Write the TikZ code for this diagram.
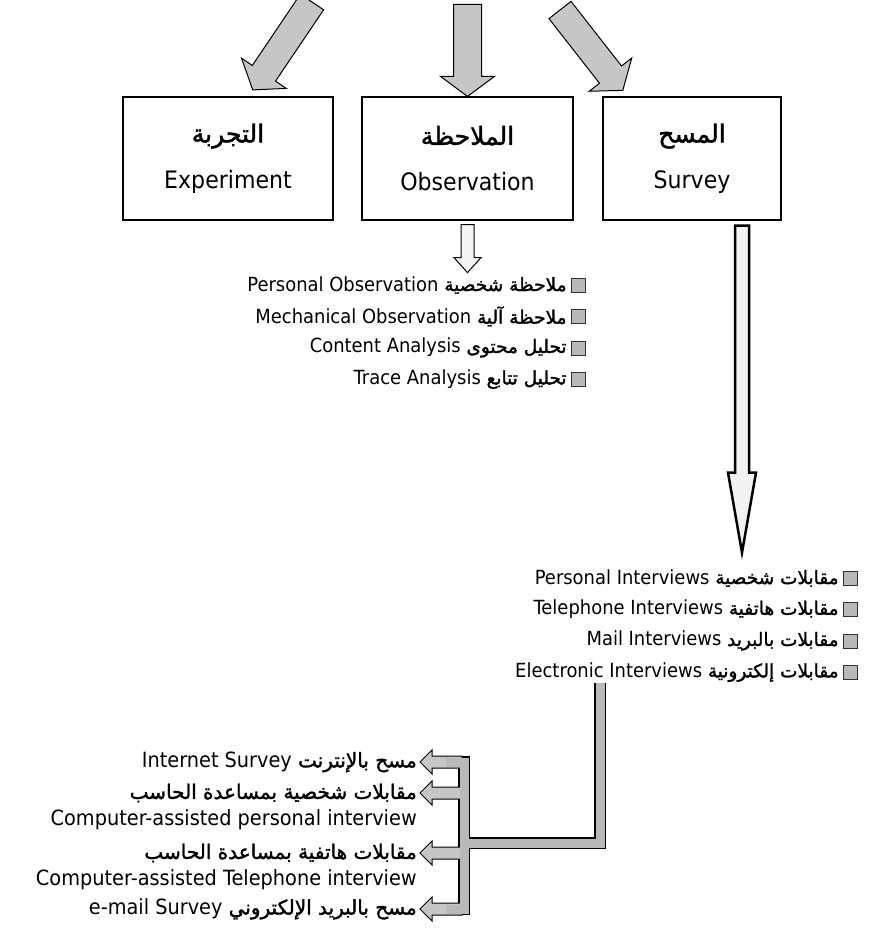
\documentclass[tikz,border=0pt]{standalone}
\usepackage{fontspec}
\setmainfont{DejaVu Sans}[FakeStretch=0.92]
\newfontfamily\arabicfont[Script=Arabic, FakeBold=1.6]{DejaVu Sans}
\TeXXeTstate=1
\usetikzlibrary{positioning,calc}

% Arabic words, set right to left at their own size \arpt
\newcommand{\arpt}{20}
\newcommand{\artext}[1]{{\fontsize{\arpt}{\arpt}\arabicfont\beginR #1\endR}}

\tikzset{
  % #1 length, #2 half shaft, #3 half head, #4 head length
  pics/blockarrow/.style n args={4}{code={
    \draw[pic actions] (0,-#2) -- ({#1-#4},-#2) -- ({#1-#4},-#3) -- (#1,0)
      -- ({#1-#4},#3) -- ({#1-#4},#2) -- (0,#2) -- cycle;
  }},
}

\begin{document}
\begin{tikzpicture}[x=1pt, y=1pt,
    method/.style={rectangle, draw=black, line width=1.2pt, minimum height=123pt,
      align=center, font=\def\arpt{25}\fontsize{24}{46}\selectfont},
    item/.style={inner sep=0pt, font=\def\arpt{18.5}\fontsize{19.5}{22}\selectfont},
    branch/.style={inner sep=0pt, font=\def\arpt{20}\fontsize{21}{24}\selectfont},
    sqbullet/.style={rectangle, draw=gray!40!black, fill=gray!55, minimum size=14pt, inner sep=0pt},
    greyarrow/.style={draw=black, line width=1pt, fill=gray!45},
    openarrow/.style={draw=black, line width=1pt, fill=gray!8},
    thickarrow/.style={draw=black, line width=2.5pt, fill=gray!10},
    barline/.style={draw=black, line width=12pt},
    barfill/.style={draw=gray!55, line width=9pt}]

  \useasboundingbox[fill=white] (0,0) rectangle (886,-948);

  % the three methods
  \node[method, minimum width=210pt] (experiment) at (228,-158.5) {\artext{التجربة}\\Experiment};
  \node[method, minimum width=211pt] (observation) at (467.5,-158.5) {\artext{الملاحظة}\\Observation};
  \node[method, minimum width=178pt] (survey) at (692,-158.5) {\artext{المسح}\\Survey};

  % arrows coming in from above
  \pic[greyarrow, rotate=-124] at (312,-2) {blockarrow={106}{14}{27}{20}};
  \pic[greyarrow, rotate=-90] at ($(observation.north)+(0,92)$) {blockarrow={92}{14}{27}{20}};
  \pic[greyarrow, rotate=-52] at (560,-10) {blockarrow={102}{14}{27}{20}};

  % observation techniques
  \pic[openarrow, rotate=-90] at ($(observation.south)+(0,-4)$) {blockarrow={48}{6.5}{13.5}{15}};
  \node[sqbullet] (ob1) at (578,-285) {};
  \node[sqbullet, below=17pt of ob1] (ob2) {};
  \node[sqbullet, below=17pt of ob2] (ob3) {};
  \node[sqbullet, below=17pt of ob3] (ob4) {};
  \node[item, left=4pt of ob1] (personalobs) {Personal Observation \artext{ملاحظة شخصية}};
  \node[item, left=4pt of ob2] (mechanicalobs) {Mechanical Observation \artext{ملاحظة آلية}};
  \node[item, left=4pt of ob3] (content) {Content Analysis \artext{تحليل محتوى}};
  \node[item, left=4pt of ob4] (trace) {Trace Analysis \artext{تحليل تتابع}};

  % survey techniques
  \pic[thickarrow, rotate=-90] at ($(survey.south)+(50,-5)$) {blockarrow={327}{7}{14}{80}};
  \node[sqbullet] (sv1) at (850,-578) {};
  \node[sqbullet, below=17pt of sv1] (sv2) {};
  \node[sqbullet, below=17pt of sv2] (sv3) {};
  \node[sqbullet, below=17pt of sv3] (sv4) {};
  \node[item, left=4pt of sv1] (personalint) {Personal Interviews \artext{مقابلات شخصية}};
  \node[item, left=4pt of sv2] (phoneint) {Telephone Interviews \artext{مقابلات هاتفية}};
  \node[item, left=4pt of sv3] (mailint) {Mail Interviews \artext{مقابلات بالبريد}};
  \node[item, left=4pt of sv4] (electronicint) {Electronic Interviews \artext{مقابلات إلكترونية}};

  % electronic interviews branch
  \coordinate (etop) at (600,-683);
  \coordinate (ejoin) at (600,-843);
  \coordinate (ljoin) at (464,-843);
  \coordinate (ltop) at (446,-762);
  \coordinate (lbot) at (446,-909);
  \coordinate (t1) at (420,-762);
  \coordinate (t2) at (420,-793);
  \coordinate (t3) at (420,-853);
  \coordinate (t4) at (420,-909);

  \draw[barline] (etop) -- (ejoin) -- (ljoin) (ltop) -- (464,-762) -- (464,-909) -- (lbot);
  \foreach \t in {t1,t2,t3,t4}
    \pic[greyarrow, rotate=180] at ($(\t)+(42,0)$) {blockarrow={42}{6}{12}{12}};
  \draw[barfill] (etop) -- (ejoin) -- (ljoin) (ltop) -- (464,-762) -- (464,-909) -- (lbot);

  \node[branch, left=3pt of t1] (internet) {Internet Survey \artext{مسح بالإنترنت}};
  \node[branch, left=3pt of t2] (capar) {\artext{مقابلات شخصية بمساعدة الحاسب}};
  \node[branch, below left=7pt and 0pt of capar.south east, anchor=north east] (capen) {Computer-assisted personal interview};
  \node[branch, left=3pt of t3] (catar) {\artext{مقابلات هاتفية بمساعدة الحاسب}};
  \node[branch, below left=7pt and 0pt of catar.south east, anchor=north east] (caten) {Computer-assisted Telephone interview};
  \node[branch, left=3pt of t4] (email) {e-mail Survey \artext{مسح بالبريد الإلكتروني}};

\end{tikzpicture}
\end{document}
